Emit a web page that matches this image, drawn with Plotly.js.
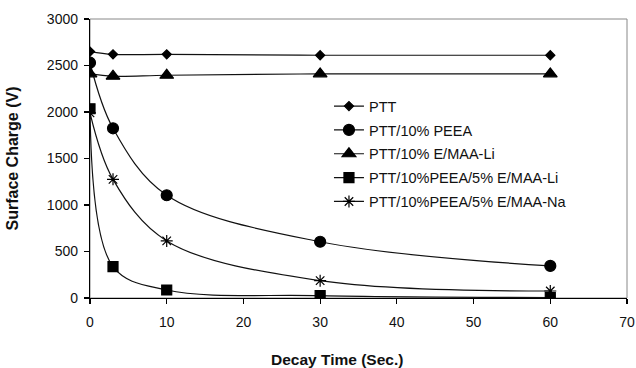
<!DOCTYPE html>
<html>
<head>
<meta charset="utf-8">
<script src="https://cdn.plot.ly/plotly-3.0.1.min.js"></script>
<style>html,body{margin:0;padding:0;background:#fff;}#chart{width:636px;height:368px;}</style>
</head>
<body>
<div id="chart"></div>
<script>
const decayTime = [0, 3, 10, 30, 60];
const seriesNames = ["PTT", "PTT/10% PEEA", "PTT/10% E/MAA-Li", "PTT/10%PEEA/5% E/MAA-Li", "PTT/10%PEEA/5% E/MAA-Na"];
const ptt = [2650, 2620, 2620, 2610, 2610];
const pttPeea = [2530, 1825, 1105, 605, 345];
const pttEmaaLi = [2410, 2385, 2395, 2410, 2410];
const pttPeeaEmaaLi = [2035, 337, 86, 25, 5];
const pttPeeaEmaaNa = [1990, 1276, 614, 186, 75];
const xTicks = [0, 10, 20, 30, 40, 50, 60, 70];
const yTicks = [0, 500, 1000, 1500, 2000, 2500, 3000];

const seriesValues = [ptt, pttPeea, pttEmaaLi, pttPeeaEmaaLi, pttPeeaEmaaNa];
const symbols = ["diamond", "circle", "triangle-up", "square", "asterisk-open"];
const sizes = [7, 11, 12, 10, 10];

const traces = seriesValues.map((vals, i) => ({
  x: decayTime,
  y: vals,
  name: seriesNames[i],
  type: "scatter",
  mode: "lines+markers",
  line: {color: "#111", width: 1.2, shape: "spline", smoothing: 1},
  marker: {symbol: symbols[i], size: sizes[i], color: "#000", line: {color: "#000", width: 1.2}},
  legendgroup: "g" + i
}));

const font = "Liberation Sans, Arial, sans-serif";
const layout = {
  width: 636, height: 368,
  margin: {l: 90, r: 9, t: 19, b: 70},
  paper_bgcolor: "#fff", plot_bgcolor: "#fff",
  font: {family: font, color: "#111", size: 14},
  showlegend: true,
  legend: {
    x: 0.445, y: 0.745, xanchor: "left", yanchor: "top",
    font: {family: font, size: 14.5, color: "#111"},
    bgcolor: "rgba(0,0,0,0)", traceorder: "grouped", tracegroupgap: 2,
    itemwidth: 30
  },
  xaxis: {
    range: [0, 70], tickvals: xTicks, ticktext: xTicks.map(String),
    showgrid: false, zeroline: false, showline: true, linecolor: "#000", linewidth: 1.2,
    ticks: "outside", ticklen: 5, tickcolor: "#000", tickwidth: 1.2, ticklabelstandoff: 6,
    tickfont: {family: font, size: 14, color: "#111"}
  },
  yaxis: {
    range: [0, 3000], tickvals: yTicks, ticktext: yTicks.map(String),
    showgrid: false, zeroline: false, showline: true, linecolor: "#000", linewidth: 1.2,
    ticks: "outside", ticklen: 5, tickcolor: "#000", tickwidth: 1.2, ticklabelstandoff: 3,
    tickfont: {family: font, size: 14, color: "#111"},
    title: {text: "Surface Charge (V)", font: {family: font, size: 16, color: "#111", weight: "bold"}, standoff: 24}
  },
  shapes: [
    {type: "rect", xref: "paper", yref: "paper", x0: 0, x1: 1, y0: 0, y1: 1, line: {color: "#888", width: 1}, layer: "below"}
  ],
  annotations: [
    {text: "<b>Decay Time (Sec.)</b>", xref: "paper", yref: "paper", x: 0.46, y: -0.22, xanchor: "center", yanchor: "middle", showarrow: false,
     font: {family: font, size: 15.5, color: "#111"}}
  ]
};

Plotly.newPlot("chart", traces, layout, {displayModeBar: false, staticPlot: true});
</script>
</body>
</html>
